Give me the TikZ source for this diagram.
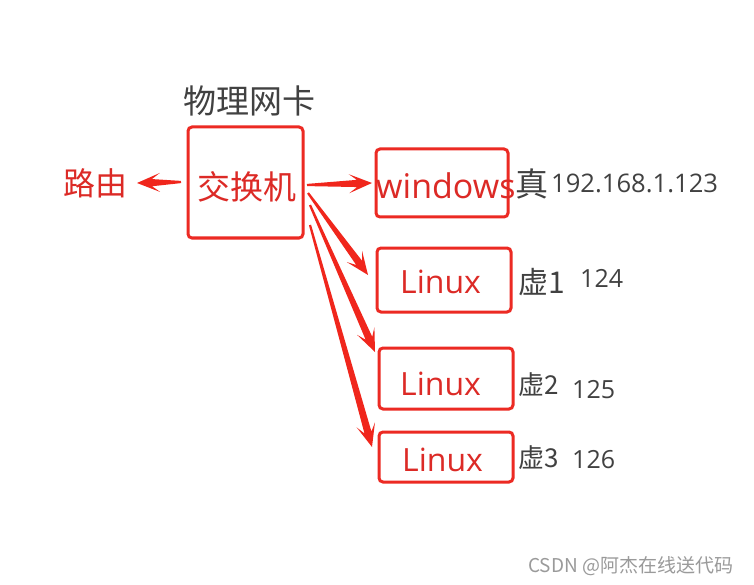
\documentclass[tikz,border=0pt]{standalone}
\usepackage{fontspec}
\setmainfont{Open Sans}
\newfontfamily\cjk{Noto Sans CJK SC}
\usetikzlibrary{calc}
\definecolor{boxred}{HTML}{EC2A23}
\definecolor{txtred}{HTML}{DC2A26}
\definecolor{arrred}{HTML}{F0261C}
\definecolor{txtgray}{HTML}{414141}
\definecolor{wmgray}{HTML}{9A9A9A}
\newcommand\fs[1]{\fontsize{#1}{#1}\selectfont}
\newcommand\tarr[2]{%
  \coordinate (h1) at ($(#2)!15pt!(#1)$);
  \coordinate (h2) at ($(#2)!23pt!(#1)$);
  \fill[arrred] ($(#1)!1.1pt!90:(#2)$) -- ($(h1)!3.6pt!90:(#2)$) -- ($(h2)!9.5pt!90:(#2)$) -- (#2)
    -- ($(h2)!9.5pt!-90:(#2)$) -- ($(h1)!3.6pt!-90:(#2)$) -- ($(#1)!1.1pt!-90:(#2)$) -- cycle;}
\tikzset{
  box/.style={draw=boxred, line width=3pt, rounded corners=4pt, inner sep=0pt},
  redtxt/.style={text=txtred, inner sep=0pt},
  graytxt/.style={text=txtgray, inner sep=0pt},
}
\begin{document}
\begin{tikzpicture}[x=1pt,y=-1pt]
\useasboundingbox[fill=white] (0,0) rectangle (754,585);
% boxes
\node[box, minimum width=115pt, minimum height=111pt] (sw) at (245.5,182.5) {};
\node[box, minimum width=132pt, minimum height=68pt] (win) at (442,183) {};
\node[box, minimum width=134pt, minimum height=64pt] (l1) at (444,280) {};
\node[box, minimum width=134pt, minimum height=61pt] (l2) at (446,378.5) {};
\node[box, minimum width=134pt, minimum height=50pt] (l3) at (446,457) {};
% texts
\node[graytxt] (nic) at (249,101) {\cjk\fs{33}物理网卡};
\node[redtxt] (swt) at (247,187) {\cjk\fs{33}交换机};
\node[redtxt] (router) at (95,183) {\cjk\fs{32}路由};
\node[redtxt, anchor=base west] (wint) at (376,199) {\fs{34}windows};
\node[redtxt, anchor=base west] (l1t) at (400,293) {\fs{32}Linux};
\node[redtxt, anchor=base west] (l2t) at (400,395) {\fs{32}Linux};
\node[redtxt, anchor=base west] (l3t) at (402,471) {\fs{32}Linux};
\node[graytxt, anchor=base west] (z0) at (515,197) {\cjk\fs{33}真};
\node[graytxt, anchor=base west] (ip0) at (551,193) {\fs{25.6}192.168.1.123};
\node[graytxt, anchor=base west] (z1) at (518,293) {\cjk\fs{30}虚\fs{30}1};
\node[graytxt, anchor=base west] (ip1) at (580,287) {\fs{25}124};
\node[graytxt, anchor=base west] (z2) at (518,394) {\cjk\fs{26}虚\fs{26}2};
\node[graytxt, anchor=base west] (ip2) at (572,398) {\fs{25}125};
\node[graytxt, anchor=base west] (z3) at (518,467) {\cjk\fs{26}虚\fs{26}3};
\node[graytxt, anchor=base west] (ip3) at (572,468) {\fs{25}126};
\node[text=wmgray, inner sep=0pt, anchor=west] (wm) at (528,566) {\cjk\fs{19}CSDN @阿杰在线送代码};
% arrows
\coordinate (sR) at (181,182); \coordinate (tR) at (137,183);
\coordinate (s0) at (307,185); \coordinate (t0) at (372,183);
\coordinate (s1) at (308,193); \coordinate (t1) at (368,275);
\coordinate (s2) at (310,205); \coordinate (t2) at (375,352);
\coordinate (s3) at (310,225); \coordinate (t3) at (372,447);
\tarr{sR}{tR}
\tarr{s0}{t0}
\tarr{s1}{t1}
\tarr{s2}{t2}
\tarr{s3}{t3}
\end{tikzpicture}
\end{document}
